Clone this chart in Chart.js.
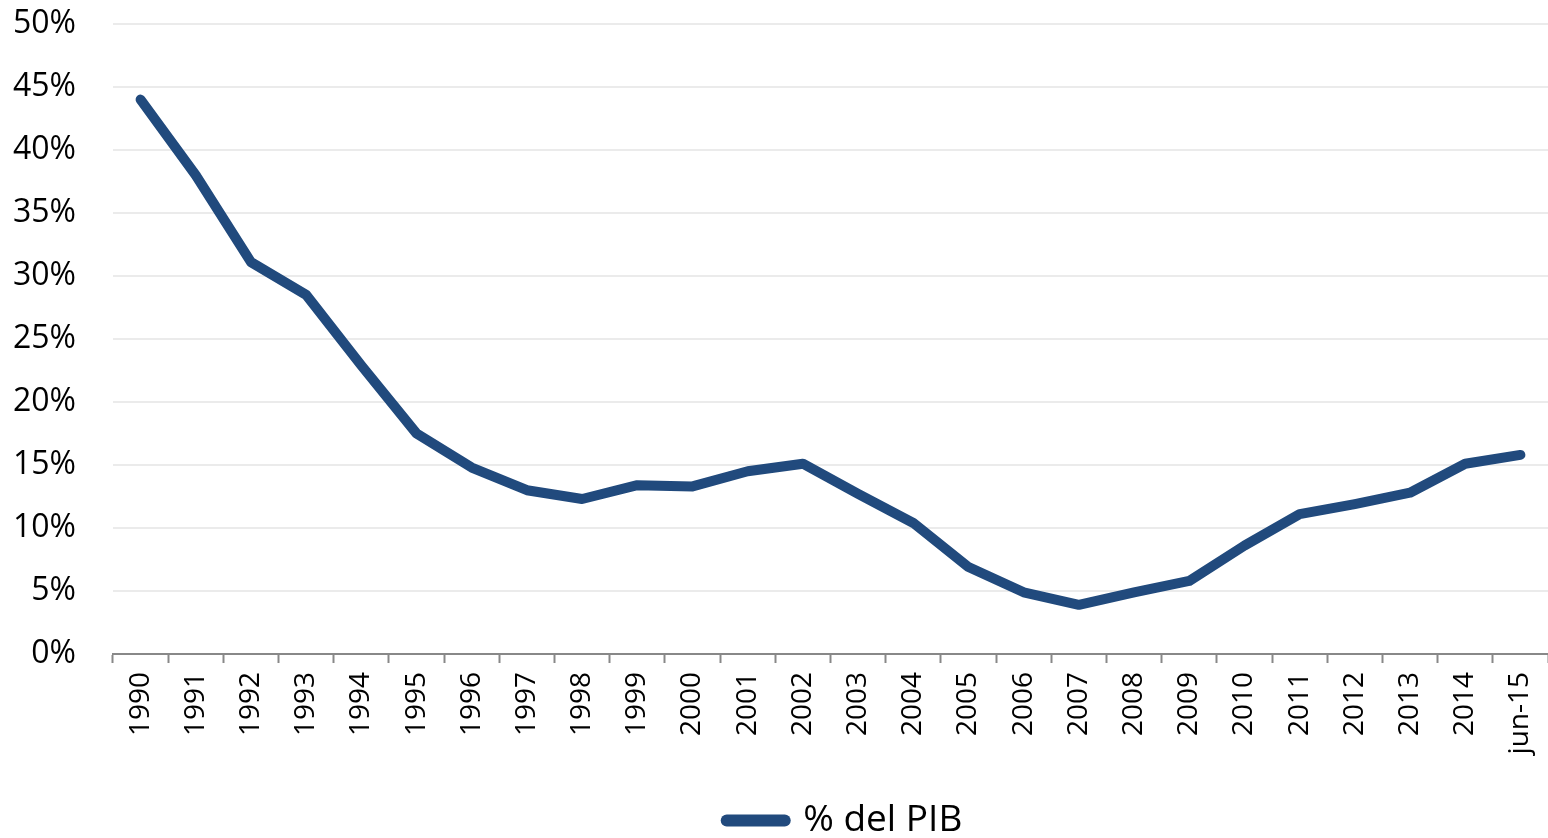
<!DOCTYPE html>
<html>
<head>
<meta charset="utf-8">
<script src="https://cdn.jsdelivr.net/npm/chart.js@4"></script>
<style>
html,body{margin:0;padding:0;background:#fff;}
#wrap{width:1548px;height:838px;position:relative;}
</style>
</head>
<body>
<div id="wrap"><canvas id="c" width="1548" height="838"></canvas></div>
<script>
const categories = ["1990","1991","1992","1993","1994","1995","1996","1997","1998","1999","2000","2001","2002","2003","2004","2005","2006","2007","2008","2009","2010","2011","2012","2013","2014","jun-15"];
const seriesName = "% del PIB";
const values = [44.0,38.0,31.1,28.5,22.9,17.5,14.8,13.0,12.3,13.4,13.3,14.5,15.1,12.7,10.4,6.9,4.9,3.9,4.9,5.8,8.6,11.1,11.9,12.8,15.1,15.8];
const yTicks = [0,5,10,15,20,25,30,35,40,45,50];

const FONT = "'Open Sans', 'Liberation Sans', Arial, sans-serif";
const LINE = "#214A7D";

const shiftLegend = {
  id: 'shiftLegend',
  afterLayout(chart) {
    if (chart.legend) { chart.legend.left += 14; chart.legend.right += 14; }
  }
};

new Chart(document.getElementById('c'), {
  type: 'line',
  data: {
    labels: categories,
    datasets: [{
      label: seriesName,
      data: values,
      borderColor: LINE,
      backgroundColor: LINE,
      borderWidth: 10,
      borderCapStyle: 'round',
      borderJoinStyle: 'round',
      pointRadius: 0,
      pointHoverRadius: 0,
      tension: 0,
      fill: false
    }]
  },
  plugins: [shiftLegend],
  options: {
    responsive: false,
    animation: false,
    devicePixelRatio: 1,
    layout: { padding: { left: 0, right: 0, top: 24, bottom: -11 } },
    plugins: {
      tooltip: { enabled: false },
      legend: {
        position: 'bottom',
        fullSize: false,
        labels: {
          usePointStyle: true,
          pointStyle: 'line',
          pointStyleWidth: 58,
          boxHeight: 10,
          color: '#000',
          font: { family: FONT, size: 37 },
          padding: 2,
          generateLabels: (chart) => chart.data.datasets.map((ds, i) => ({
            text: ds.label,
            fillStyle: ds.borderColor,
            strokeStyle: ds.borderColor,
            lineWidth: 12,
            lineCap: 'round',
            pointStyle: 'line',
            hidden: false,
            datasetIndex: i,
            fontColor: '#000'
          }))
        }
      }
    },
    scales: {
      x: {
        type: 'category',
        offset: true,
        afterFit: (s) => { s.height = 146; s.paddingLeft = 0; s.paddingRight = 0; },
        grid: {
          display: true,
          offset: true,
          drawOnChartArea: false,
          drawTicks: true,
          tickLength: 9,
          tickWidth: 2,
          tickColor: '#888'
        },
        border: { display: true, color: '#888', width: 2 },
        ticks: {
          autoSkip: false,
          minRotation: 90,
          maxRotation: 90,
          color: '#000',
          padding: 9,
          font: { family: FONT, size: 28 }
        }
      },
      y: {
        min: 0,
        max: 50,
        afterFit: (s) => { s.width = 113; s.paddingTop = 0; s.paddingBottom = 0; },
        afterBuildTicks: (axis) => { axis.ticks = yTicks.map(v => ({ value: v })); },
        grid: {
          color: '#ebebeb',
          lineWidth: 2,
          drawTicks: false
        },
        border: { display: false },
        ticks: {
          color: '#000',
          padding: 37,
          font: { family: FONT, size: 32 },
          callback: (v) => v + '%'
        }
      }
    }
  }
});
</script>
</body>
</html>
